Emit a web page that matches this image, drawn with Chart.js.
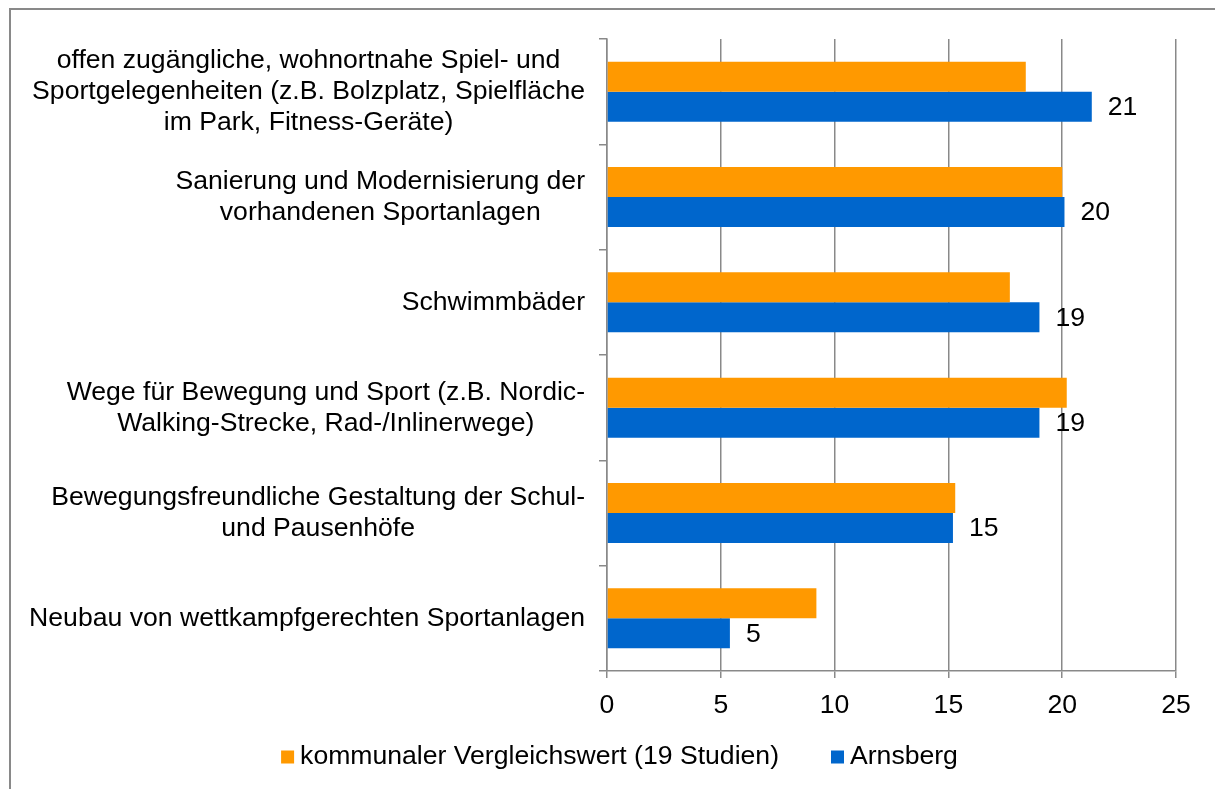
<!DOCTYPE html>
<html>
<head>
<meta charset="utf-8">
<script src="https://cdn.jsdelivr.net/npm/chart.js@4.4.1/dist/chart.umd.min.js"></script>
<style>
  html, body { margin: 0; padding: 0; background: #fff; }
  #wrap { width: 1215px; height: 789px; }
</style>
</head>
<body>
<div id="wrap"><canvas id="chart" width="1215" height="789"></canvas></div>
<script>
const categories = [
  ["offen zugängliche, wohnortnahe Spiel- und", "Sportgelegenheiten (z.B. Bolzplatz, Spielfläche", "im Park, Fitness-Geräte)"],
  ["Sanierung und Modernisierung der", "vorhandenen Sportanlagen"],
  ["Schwimmbäder"],
  ["Wege für Bewegung und Sport (z.B. Nordic-", "Walking-Strecke, Rad-/Inlinerwege)"],
  ["Bewegungsfreundliche Gestaltung der Schul-", "und Pausenhöfe"],
  ["Neubau von wettkampfgerechten Sportanlagen"]
];
const seriesNames = ["kommunaler Vergleichswert (19 Studien)", "Arnsberg"];
const vergleichswert = [18.4, 20.0, 17.7, 20.2, 15.3, 9.2];
const arnsberg = [21.3, 20.1, 19.0, 19.0, 15.2, 5.4];
const xMin = 0, xMax = 25, xStep = 5;

const FONT = '"Liberation Sans", Arial, sans-serif';
const FSIZE = 26.6;
const GRAY = "#898989";
const ORANGE = "#ff9900";
const BLUE = "#0066cc";

// frame, category labels, value labels and legend
const extras = {
  id: "extras",
  beforeDraw(chart) {
    const ctx = chart.ctx;
    ctx.save();
    ctx.strokeStyle = GRAY;
    ctx.lineWidth = 2;
    ctx.strokeRect(10, 9, 1400, 1000);
    ctx.restore();
  },
  afterDraw(chart) {
    const ctx = chart.ctx;
    const yScale = chart.scales.y;
    const area = chart.chartArea;
    ctx.save();
    ctx.fillStyle = "#000";
    ctx.font = FSIZE + "px " + FONT;
    ctx.textBaseline = "middle";
    ctx.textAlign = "center";

    // category labels: block right-aligned, lines centered
    const lh = 31;
    categories.forEach((lines, i) => {
      const yc = yScale.getPixelForValue(i);
      const w = Math.max(...lines.map(l => ctx.measureText(l).width));
      const xc = area.left - 22 - w / 2;
      const y0 = yc - (lines.length - 1) * lh / 2;
      lines.forEach((l, k) => ctx.fillText(l, xc, y0 + k * lh));
    });

    // value labels for Arnsberg
    ctx.textAlign = "left";
    chart.getDatasetMeta(1).data.forEach((bar, i) => {
      ctx.fillText(String(Math.round(arnsberg[i])), bar.x + 16, bar.y + 1);
    });

    // legend
    const colors = [ORANGE, BLUE];
    const box = 13, gap = 6, spacing = 52;
    const widths = seriesNames.map(n => box + gap + ctx.measureText(n).width);
    const total = widths.reduce((a, b) => a + b, 0) + spacing * (widths.length - 1);
    let x = 619.5 - total / 2;
    const ly = 757;
    seriesNames.forEach((n, i) => {
      ctx.fillStyle = colors[i];
      ctx.fillRect(x, ly - box / 2, box, box);
      ctx.fillStyle = "#000";
      ctx.fillText(n, x + box + gap, ly);
      x += widths[i] + spacing;
    });
    ctx.restore();
  }
};

new Chart(document.getElementById("chart").getContext("2d"), {
  type: "bar",
  data: {
    labels: categories,
    datasets: [
      { label: seriesNames[0], data: vergleichswert, backgroundColor: ORANGE },
      { label: seriesNames[1], data: arnsberg, backgroundColor: BLUE }
    ]
  },
  options: {
    responsive: false,
    animation: false,
    indexAxis: "y",
    categoryPercentage: 0.57,
    barPercentage: 1.0,
    layout: { padding: { left: 599, top: 39, right: 39, bottom: 0 } },
    plugins: {
      legend: { display: false },
      tooltip: { enabled: false }
    },
    scales: {
      x: {
        min: xMin,
        max: xMax,
        ticks: { stepSize: xStep, color: "#000", font: { size: FSIZE, family: FONT }, padding: 12 },
        grid: { color: GRAY, lineWidth: 1.5, tickLength: 7 },
        border: { color: GRAY, width: 1.5 },
        afterFit: s => { s.height = 118; }
      },
      y: {
        ticks: { display: false },
        grid: { drawOnChartArea: false, tickLength: 8, color: GRAY, lineWidth: 1.5 },
        border: { color: GRAY, width: 1.5 },
        afterFit: s => { s.width = 8; }
      }
    }
  },
  plugins: [extras]
});
</script>
</body>
</html>
